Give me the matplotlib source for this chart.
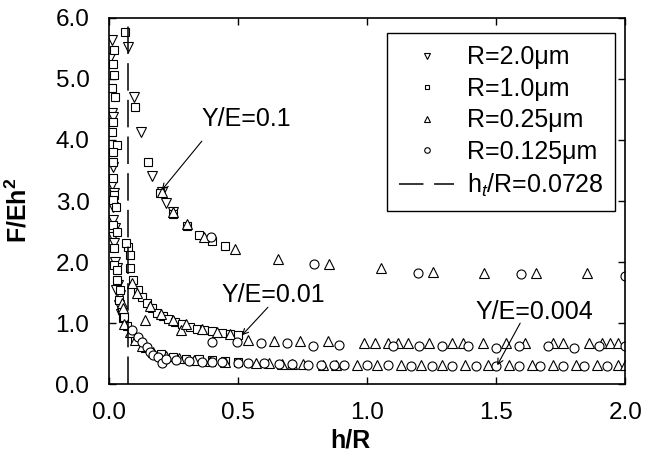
import numpy as np
import matplotlib
matplotlib.use('Agg')
import matplotlib.pyplot as plt
from matplotlib.lines import Line2D

plt.rcParams['font.family'] = ['Liberation Sans', 'DejaVu Sans']
plt.rcParams['mathtext.fontset'] = 'custom'
plt.rcParams['mathtext.rm'] = 'Liberation Sans'
plt.rcParams['mathtext.it'] = 'Liberation Sans:italic'
plt.rcParams['mathtext.bf'] = 'Liberation Sans:bold'

# R = 2.0 um (down triangles)
x_r20 = [0.012, 0.074, 0.097, 0.124, 0.167, 0.205, 0.221, 0.248,
         0.004, 0.012, 0.016, 0.016, 0.012, 0.019, 0.016, 0.016, 0.023, 0.016,
         0.019, 0.023, 0.031, 0.035, 0.043, 0.039, 0.027, 0.047]
y_r20 = [5.64, 5.52, 4.70, 4.13, 3.41, 3.15, 2.97, 2.82,
         5.34, 4.44, 4.38, 3.56, 3.26, 3.13, 2.90, 2.69, 2.56, 2.41,
         2.31, 2.00, 1.90, 1.62, 1.46, 1.30, 1.55, 1.15]

# R = 1.0 um (squares)
x_r10 = [0.062, 0.101, 0.151, 0.198, 0.248, 0.302, 0.349, 0.400, 0.450,
         0.019, 0.016, 0.019, 0.012, 0.023, 0.016, 0.012, 0.031, 0.016, 0.016,
         0.016, 0.020, 0.016, 0.027, 0.016, 0.031, 0.019, 0.074, 0.081, 0.019,
         0.031, 0.031, 0.043, 0.039, 0.050, 0.055,
         0.066, 0.081, 0.093, 0.112, 0.128, 0.147, 0.167, 0.186, 0.209, 0.229,
         0.256, 0.283, 0.314, 0.340, 0.370, 0.400, 0.440, 0.470, 0.500,
         0.060, 0.070, 0.100, 0.140, 0.200, 0.250, 0.300, 0.350, 0.400, 0.450, 0.500]
y_r10 = [5.77, 4.54, 3.64, 3.13, 2.78, 2.59, 2.44, 2.34, 2.26,
         5.48, 5.25, 5.07, 4.85, 4.70, 4.30, 4.13, 3.92, 3.80, 3.64,
         3.38, 3.10, 3.02, 2.90, 2.61, 2.50, 2.23, 2.25, 2.11, 1.95,
         1.87, 1.70, 1.55, 1.38, 1.21, 1.08,
         2.31, 1.90, 1.70, 1.54, 1.43, 1.33, 1.24, 1.17, 1.11, 1.06,
         1.02, 0.98, 0.94, 0.91, 0.89, 0.87, 0.84, 0.82, 0.80,
         1.10, 0.95, 0.75, 0.60, 0.50, 0.45, 0.42, 0.41, 0.39, 0.38, 0.37]

# R = 0.25 um (up triangles)
x_r025 = [0.205, 0.248, 0.302, 0.368, 0.490, 0.655, 0.853, 1.054, 1.256, 1.453, 1.655, 1.853,
          0.050, 0.055, 0.090, 0.110, 0.140, 0.160, 0.200, 0.250, 0.280, 0.300, 0.360, 0.420,
          0.470, 0.540, 0.640, 0.740, 0.850, 0.990, 1.030, 1.080, 1.120, 1.160, 1.240, 1.330,
          1.370, 1.450, 1.540, 1.610, 1.720, 1.760, 1.860, 1.910, 1.940, 1.970,
          0.060, 0.080, 0.100, 0.130, 0.170, 0.220, 0.270, 0.330, 0.390, 0.450, 0.570, 0.620,
          0.670, 0.710, 0.750, 0.830, 0.880, 0.960, 1.040, 1.130, 1.210, 1.290, 1.380, 1.470,
          1.550, 1.640, 1.720, 1.810, 1.890, 1.970, 2.000]
y_r025 = [3.15, 2.82, 2.62, 2.41, 2.21, 2.05, 1.97, 1.90, 1.84, 1.82, 1.82, 1.82,
          1.33, 1.25, 1.65, 1.50, 1.05, 1.28, 1.15, 1.05, 0.89, 0.98, 0.90, 0.86,
          0.83, 0.72, 0.70, 0.70, 0.70, 0.67, 0.67, 0.67, 0.67, 0.67, 0.67, 0.67,
          0.67, 0.67, 0.67, 0.67, 0.67, 0.67, 0.67, 0.67, 0.67, 0.67,
          0.98, 0.85, 0.72, 0.62, 0.53, 0.47, 0.43, 0.40, 0.38, 0.37, 0.34, 0.34,
          0.33, 0.33, 0.33, 0.32, 0.32, 0.31, 0.31, 0.31, 0.31, 0.31, 0.31, 0.31,
          0.31, 0.31, 0.31, 0.31, 0.31, 0.31, 0.31]

# R = 0.125 um (circles)
x_r0125 = [0.395, 0.795, 1.198, 1.597, 2.000,
           0.400, 0.496, 0.590, 0.690, 0.790, 0.890, 1.100, 1.200, 1.290, 1.390, 1.500,
           1.590, 1.700, 1.800, 1.900, 2.000,
           0.089, 0.112, 0.128, 0.147, 0.159, 0.171, 0.190, 0.205, 0.220, 0.260, 0.310,
           0.360, 0.400, 0.440, 0.500, 0.540, 0.600, 0.660, 0.710, 0.770, 0.820, 0.870,
           0.910, 1.000, 1.080, 1.170, 1.250, 1.330, 1.420, 1.500, 1.590, 1.670, 1.760,
           1.840, 1.930]
y_r0125 = [2.41, 1.97, 1.82, 1.80, 1.77,
           0.69, 0.69, 0.67, 0.67, 0.62, 0.64, 0.63, 0.62, 0.62, 0.62, 0.60,
           0.62, 0.62, 0.60, 0.62, 0.62,
           0.89, 0.77, 0.69, 0.61, 0.52, 0.48, 0.45, 0.34, 0.42, 0.40, 0.38,
           0.37, 0.36, 0.36, 0.34, 0.35, 0.34, 0.33, 0.33, 0.32, 0.32, 0.32,
           0.31, 0.31, 0.31, 0.30, 0.30, 0.30, 0.30, 0.30, 0.30, 0.30, 0.30,
           0.30, 0.30]

ht_R = 0.0728

x_ticks = [0.0, 0.5, 1.0, 1.5, 2.0]
y_ticks = [0.0, 1.0, 2.0, 3.0, 4.0, 5.0, 6.0]

fig = plt.figure(figsize=(6.52, 4.68), dpi=100)
ax = fig.add_axes([0.167, 0.179, 0.792, 0.783])

ms = 6.5
mew = 0.8
ax.plot(x_r20, y_r20, 'v', ms=ms, mfc='white', mec='black', mew=mew)
ax.plot(x_r10, y_r10, 's', ms=ms - 1, mfc='white', mec='black', mew=mew)
ax.plot(x_r025, y_r025, '^', ms=ms, mfc='white', mec='black', mew=mew)
ax.plot(x_r0125, y_r0125, 'o', ms=ms, mfc='white', mec='black', mew=mew)
ax.axvline(ht_R, color='black', lw=1.1, dashes=(18, 6))

ax.set_xlim(0, 2.0)
ax.set_ylim(0, 6.0)
ax.set_xticks(x_ticks)
ax.set_yticks(y_ticks)
ax.set_xticklabels(['%.1f' % v for v in x_ticks])
ax.set_yticklabels(['%.1f' % v for v in y_ticks])
ax.tick_params(direction='in', length=5, width=1, top=True, right=True, labelsize=17.5)
ax.tick_params(axis='x', pad=13)
ax.tick_params(axis='y', pad=14)
for s in ax.spines.values():
    s.set_linewidth(1.2)

ax.set_xlabel('h/R', fontsize=18, fontweight='bold')
ax.set_ylabel(r'$\mathbf{F/Eh^2}$', fontsize=18)
ax.xaxis.set_label_coords(0.467, -0.12)
ax.yaxis.set_label_coords(-0.15, 0.475)

# annotations
arrow = dict(arrowstyle='->', color='black', lw=0.8, shrinkA=0, shrinkB=0)
ax.text(0.36, 4.34, 'Y/E=0.1', fontsize=18, ha='left', va='center')
ax.annotate('', xy=(0.205, 3.18), xytext=(0.36, 3.98), arrowprops=arrow)
ax.text(0.438, 1.46, 'Y/E=0.01', fontsize=18, ha='left', va='center')
ax.annotate('', xy=(0.515, 0.80), xytext=(0.616, 1.26), arrowprops=arrow)
ax.text(1.419, 1.18, 'Y/E=0.004', fontsize=18, ha='left', va='center')
ax.annotate('', xy=(1.504, 0.31), xytext=(1.593, 1.00), arrowprops=arrow)

handles = [
    Line2D([], [], ls='none', marker='v', ms=4, mfc='white', mec='black', mew=0.8),
    Line2D([], [], ls='none', marker='s', ms=3.5, mfc='white', mec='black', mew=0.8),
    Line2D([], [], ls='none', marker='^', ms=4, mfc='white', mec='black', mew=0.8),
    Line2D([], [], ls='none', marker='o', ms=4, mfc='white', mec='black', mew=0.8),
    Line2D([], [], color='black', lw=1.1, dashes=(16, 7)),
]
labels = ['R=2.0\u03bcm', 'R=1.0\u03bcm', 'R=0.25\u03bcm', 'R=0.125\u03bcm',
          r'h$_t$/R=0.0728']
leg = ax.legend(handles, labels, loc='upper right', bbox_to_anchor=(0.981, 0.959),
                borderaxespad=0, fontsize=18, handlelength=2.2, handletextpad=0.5,
                labelspacing=0.3, borderpad=0.5, fancybox=False, framealpha=1)
leg.get_frame().set_edgecolor('black')
leg.get_frame().set_linewidth(1.0)

plt.savefig('out.png', dpi=100)
